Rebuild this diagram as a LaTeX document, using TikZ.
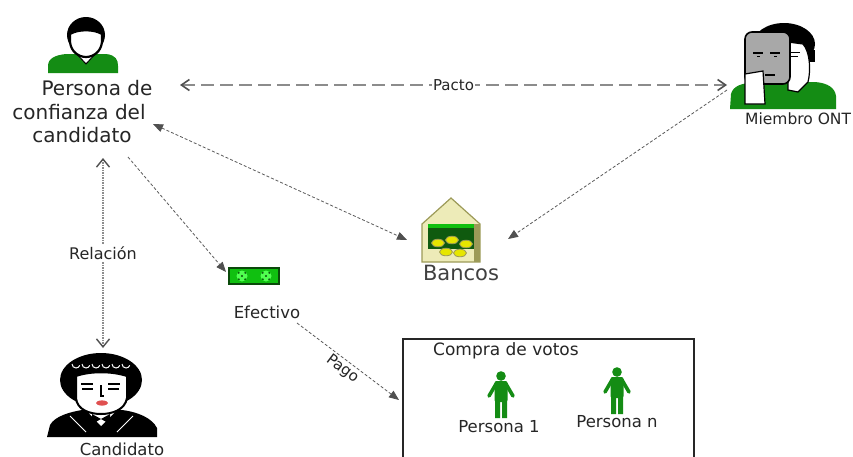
\documentclass[tikz,border=0pt]{standalone}
\usepackage{fontspec}
\setmainfont{DejaVu Sans}
\usetikzlibrary{arrows.meta}
\definecolor{ink}{HTML}{262626}
\definecolor{leaf}{HTML}{148C14}
\definecolor{linkgray}{HTML}{5A5A5A}
\definecolor{pactgray}{HTML}{8C8C8C}
\definecolor{tipgray}{HTML}{505050}
\definecolor{khaki}{HTML}{EDEBB8}
\definecolor{khakidark}{HTML}{9C9A58}
\definecolor{vault}{HTML}{0F5A0F}
\definecolor{coin}{HTML}{E6E600}
\definecolor{cash}{HTML}{10C010}
\definecolor{cashdark}{HTML}{0A4A0A}
\definecolor{cashlight}{HTML}{50FF50}
\definecolor{skin}{HTML}{A8A8A8}
\definecolor{lips}{HTML}{E05050}

\tikzset{
  every node/.style={inner sep=0pt, text=ink},
  bigtxt/.style={font=\fontsize{20}{24}\selectfont},
  midtxt/.style={font=\fontsize{16.5}{19}\selectfont},
  smalltxt/.style={font=\fontsize{15}{17}\selectfont},
  pactline/.style={draw=pactgray, line width=1.8pt, dash pattern=on 13pt off 6pt,
    {Straight Barb[length=8pt,width=11pt,line width=1.6pt,color=tipgray]}-{Straight Barb[length=8pt,width=11pt,line width=1.6pt,color=tipgray]}},
  linkline/.style={draw=linkgray, line width=0.8pt, dash pattern=on 3pt off 2pt,
    -{Triangle[length=10pt,width=8pt,color=tipgray]}},
  relline/.style={draw=pactgray, line width=1.2pt, dash pattern=on 1.5pt off 1pt,
    {Straight Barb[length=8pt,width=13pt,line width=1.4pt,color=tipgray]}-{Straight Barb[length=8pt,width=13pt,line width=1.4pt,color=tipgray]}},
  onlinelabel/.style={fill=white, inner sep=1.5pt},
  voter/.pic={
    \fill[leaf] (0,0) circle (4.8pt);
    \fill[leaf, rounded corners=2pt] (-6.5,5) rectangle (6.5,26);
    \draw[leaf, line width=3.6pt, line cap=round] (-5,8) -- (-12,20) (5,8) -- (12,20);
    \fill[leaf] (-6,24) rectangle (-1,42) (1,24) rectangle (6,42);
  }
}

\begin{document}
\begin{tikzpicture}[x=1pt,y=-1pt]
\useasboundingbox[fill=white] (0,0) rectangle (853,456);

% ---------- trusted person (top left) ----------
\fill[leaf] (48,73) -- (48,66) .. controls (48,58) and (56,55) .. (66,54) -- (106,54)
  .. controls (116,55) and (118,60) .. (118,66) -- (118,73) -- cycle;
\path[fill=white, draw=black, line width=1pt] (75,52) -- (86,64) -- (97,52) -- cycle;
\fill[black] (86,35) ellipse [x radius=19, y radius=18];
\path[fill=white, draw=black, line width=2.2pt] (70,34) .. controls (78,29) and (94,29) .. (102,34)
  -- (102,42) .. controls (101,52) and (93,57) .. (86,57) .. controls (79,57) and (71,52) .. (70,42) -- cycle;
\node[bigtxt, anchor=base] (pc1) at (97,95) {Persona de};
\node[bigtxt, anchor=base] (pc2) at (79,119) {confianza del};
\node[bigtxt, anchor=base] (pc3) at (82,142) {candidato};

% ---------- ONT member (top right) ----------
\fill[leaf] (730,109) -- (731,94) .. controls (733,86) and (742,83) .. (752,83) -- (815,82)
  .. controls (828,83) and (835,88) .. (836,96) -- (836,109) -- cycle;
\fill[black] (784,44) ellipse [x radius=31, y radius=21];
\fill[black] (800,50) rectangle (815,62);
\path[fill=white, draw=black, line width=1.2pt] (788,42) -- (803,44) .. controls (810,52) and (811,70) .. (808,82)
  -- (798,92) -- (788,90) -- cycle;
\draw[line width=1pt] (790,52) -- (800,52) (790,56) -- (798,56);
\draw[fill=skin, line width=1.6pt, rounded corners=7pt] (745,32) rectangle (790,84);
\draw[line width=1.8pt] (753,53) -- (763,53) (770,53) -- (780,53) (765,75) -- (775,75);
\draw[line width=1pt] (757,56) -- (760,56) (774,56) -- (777,56);
\path[fill=white, draw=black, line width=1.2pt] (745,74) -- (763,71) -- (765,104) -- (745,104) -- cycle;
\node[font=\fontsize{15.5}{18}\selectfont, anchor=base west] (ont) at (745,124) {Miembro ONT};

% ---------- bank ----------
\path[fill=khaki, draw=khakidark, line width=1.2pt] (422,224) -- (451,198) -- (480,224) -- (480,262) -- (422,262) -- cycle;
\fill[khakidark] (474,224) rectangle (480,262);
\fill[vault] (428,224) rectangle (474,249);
\fill[cash] (428,224) rectangle (474,228);
\foreach \cx/\cy in {438/243, 452/240, 466/244, 446/252, 460/253}
  \path[fill=coin, draw=khakidark, line width=0.8pt] (\cx,\cy) ellipse [x radius=6.5, y radius=3.8];
\node[font=\fontsize{21}{24}\selectfont, text=black!75, anchor=base] (bank) at (461,280) {Bancos};

% ---------- cash ----------
\draw[fill=cash, draw=cashdark, line width=1.5pt] (229,268) rectangle (279,284);
\foreach \sx in {242,266} {
  \fill[cashlight] (\sx,276) circle (5.5pt);
  \fill[cashdark] (\sx,276) circle (1.2pt);
  \foreach \a in {45,135,225,315} \fill[cashdark] (\sx,276) ++(\a:4.5) circle (1pt);
}
\node[midtxt, anchor=base] (cash) at (267,318) {Efectivo};

% ---------- candidate ----------
\fill[black] (47,437) -- (50,425) .. controls (55,416) and (70,412) .. (82,410) -- (122,410)
  .. controls (138,412) and (152,418) .. (157,428) -- (157,437) -- cycle;
\fill[white] (86,410) -- (101,426) -- (117,410) -- cycle;
\fill[black] (92,414) -- (101,419) -- (92,424) -- cycle (110,414) -- (101,419) -- (110,424) -- cycle;
\draw[white, line width=1pt] (70,416) -- (86,432) (133,416) -- (117,432);
\fill[black] (101,380) ellipse [x radius=41, y radius=27];
\foreach \hx in {72,82,92,102,112,122} \draw[white, line width=1pt] (\hx,364) arc[start angle=180, end angle=20, radius=4];
\path[fill=white, draw=black, line width=2pt] (76,376) .. controls (90,371) and (112,371) .. (127,376) -- (127,398)
  .. controls (125,410) and (112,414) .. (101,414) .. controls (90,414) and (77,410) .. (76,398) -- cycle;
\draw[line width=1.2pt] (81,384) -- (93,384) (108,384) -- (120,384) (82,389) -- (93,389) (108,389) -- (119,389);
\draw[line width=1.2pt] (101,385) -- (101,396) -- (104,396);
\fill[lips] (102,403) ellipse [x radius=6, y radius=2.6];
\node[midtxt, anchor=base] (cand) at (122,455) {Candidato};

% ---------- vote buying box ----------
\node[draw=ink, line width=1.6pt, minimum width=291pt, minimum height=140pt, anchor=north west] (buy) at (402,338) {};
\node[font=\fontsize{17}{20}\selectfont, anchor=base west] (buyTitle) at (433,355) {Compra de votos};
\pic at (501,376) {voter};
\pic at (617,372) {voter};
\node[midtxt, anchor=base] (p1) at (499,432) {Persona 1};
\node[midtxt, anchor=base] (pn) at (617,427) {Persona n};

% ---------- connector ends ----------
\coordinate (pactA) at (180,85);
\coordinate (pactB) at (727,85);
\coordinate (pcOutBank) at (153,124);
\coordinate (bankW) at (407,240);
\coordinate (ontOut) at (727,90);
\coordinate (bankE) at (508,239);
\coordinate (pcOutCash) at (128,157);
\coordinate (cashN) at (226,272);
\coordinate (relTop) at (103,158);
\coordinate (relBot) at (103,348);
\coordinate (cashOut) at (297,323);
\coordinate (buyIn) at (399,400);

% ---------- connectors ----------
\draw[pactline] (pactA) -- node[onlinelabel, smalltxt] (pactLbl) {Pacto} (pactB);
\draw[linkline, {Triangle[length=10pt,width=8pt,color=tipgray]}-{Triangle[length=10pt,width=8pt,color=tipgray]}] (pcOutBank) -- (bankW);
\draw[linkline] (ontOut) -- (bankE);
\draw[linkline] (pcOutCash) -- (cashN);
\draw[relline] (relTop) -- node[onlinelabel, font=\fontsize{16}{18}\selectfont] (relLbl) {Relación} (relBot);
\draw[linkline] (cashOut) -- node[smalltxt, sloped, anchor=north, pos=0.5, yshift=-2pt] (payLbl) {Pago} (buyIn);
\end{tikzpicture}
\end{document}
